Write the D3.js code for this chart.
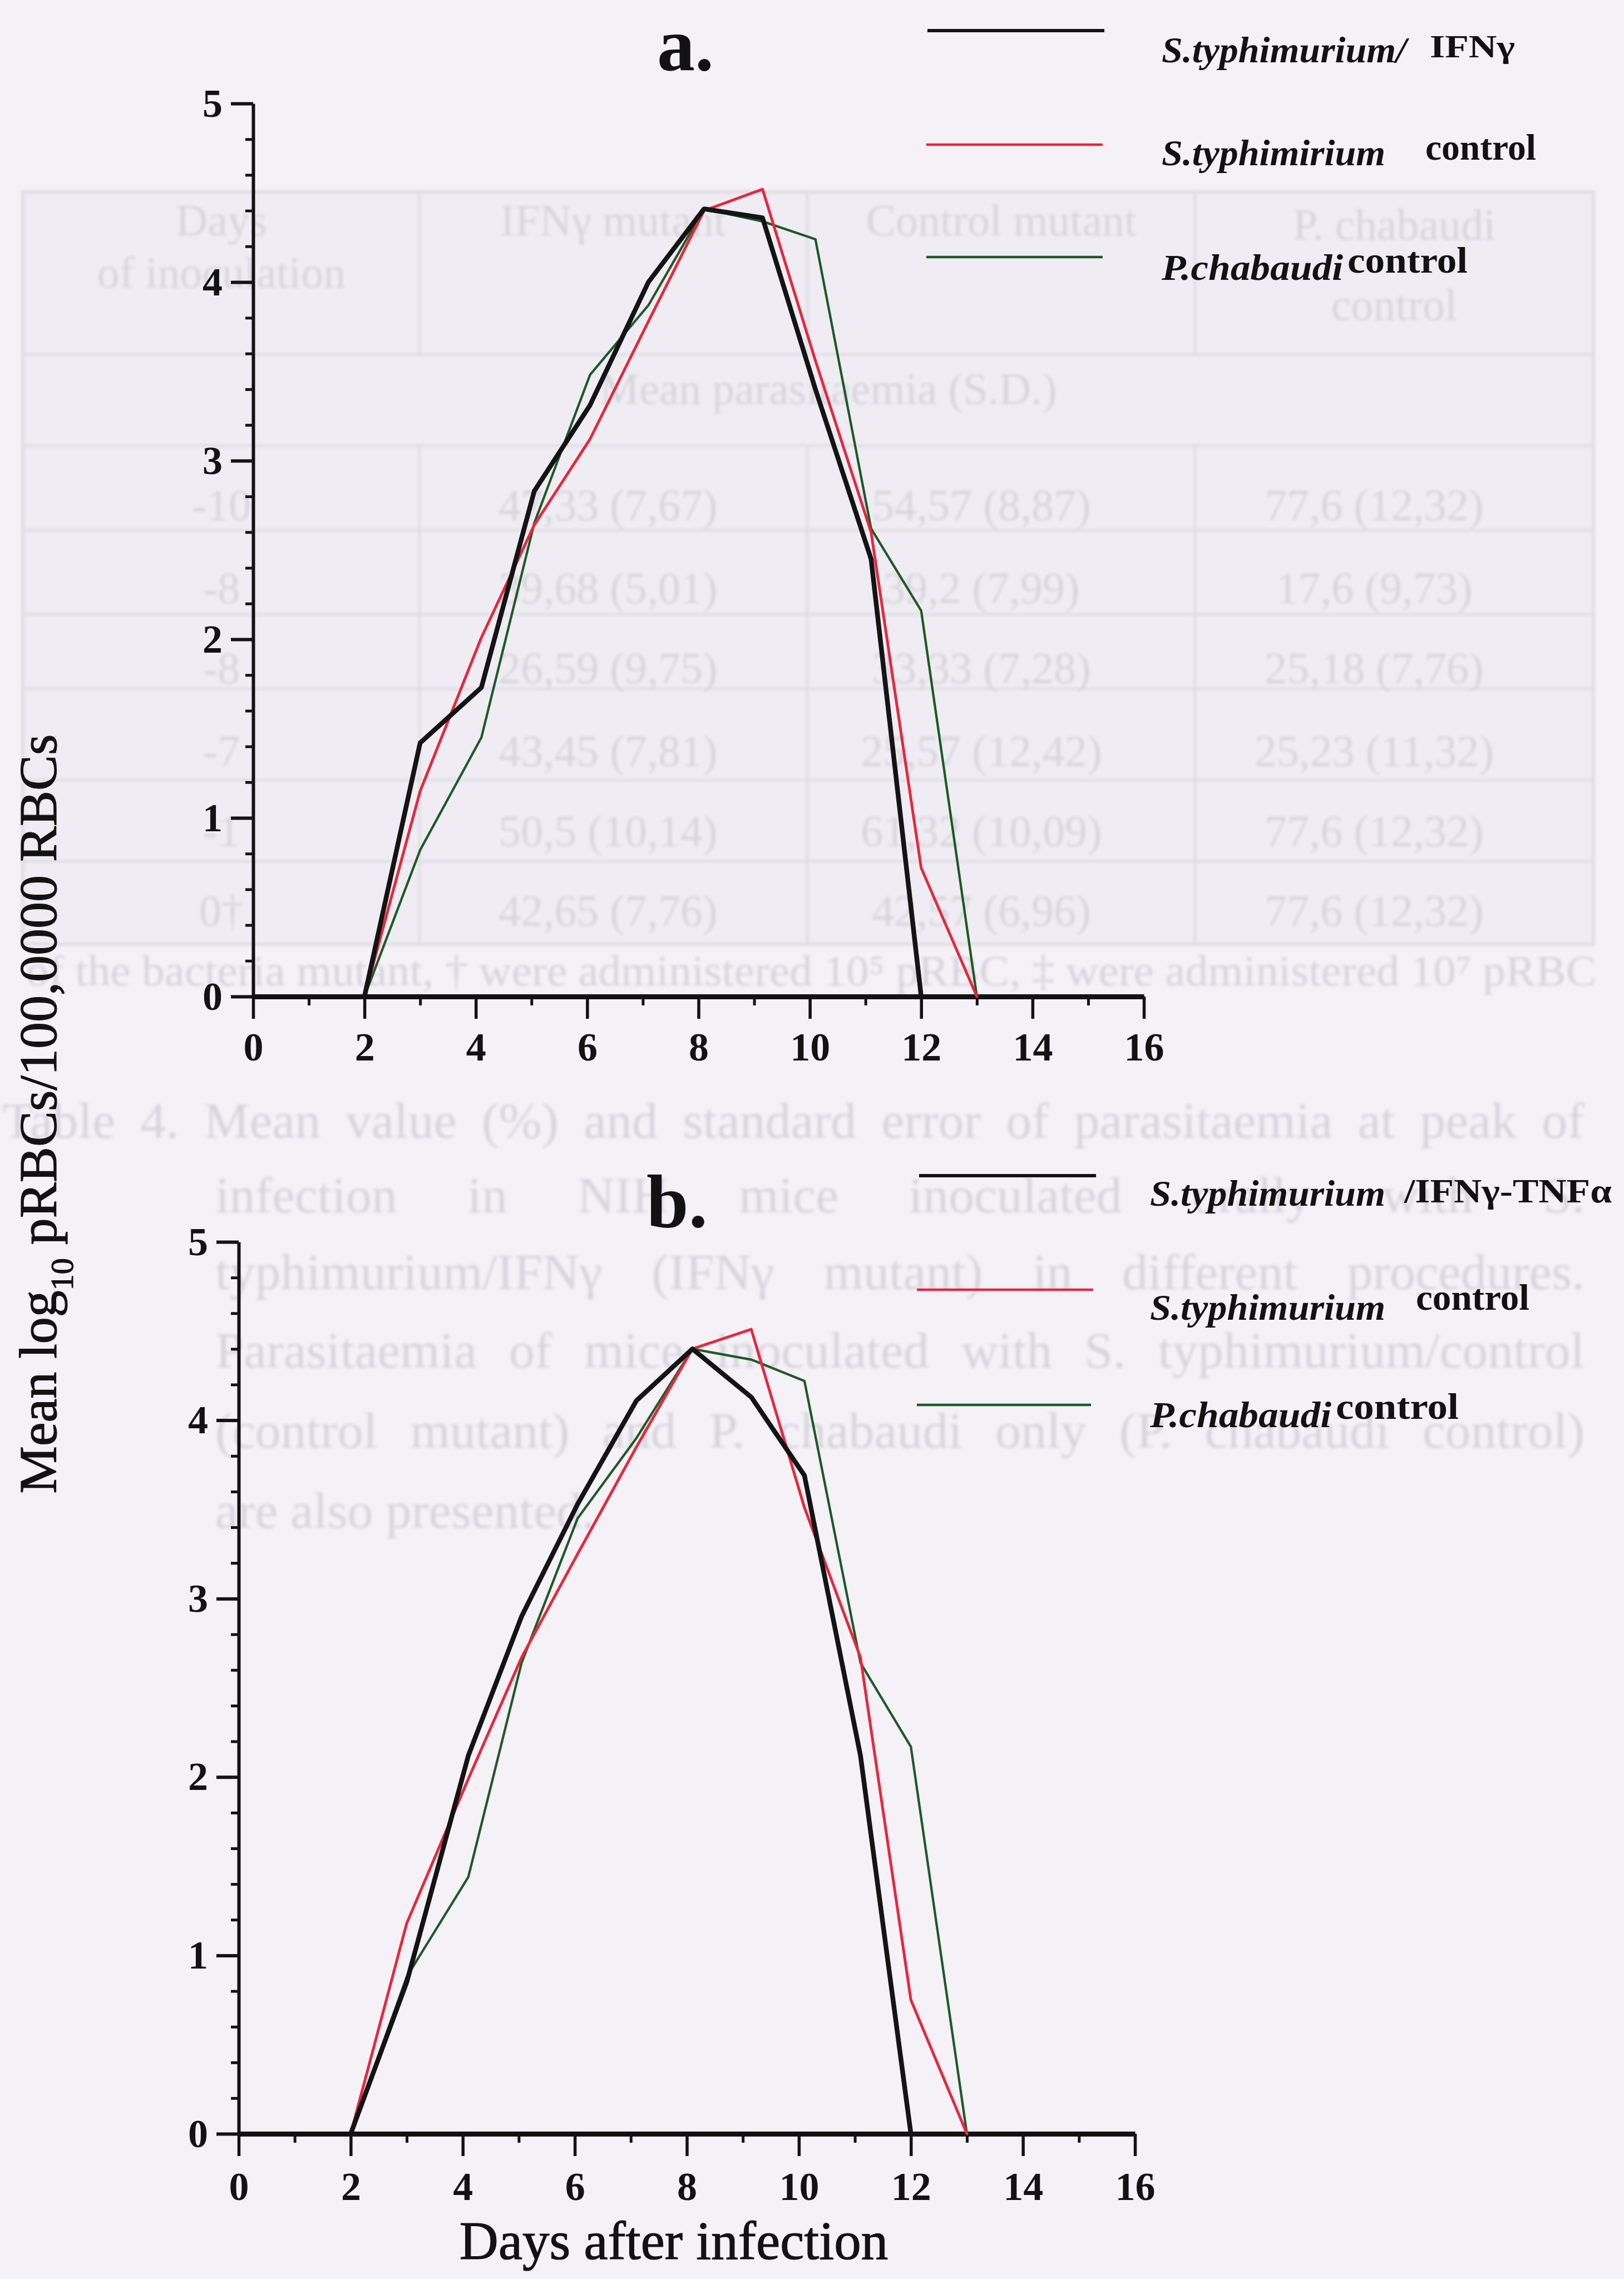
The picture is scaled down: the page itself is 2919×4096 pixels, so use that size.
<!DOCTYPE html>
<html><head><meta charset="utf-8">
<script src="https://cdn.jsdelivr.net/npm/d3@7"></script>
<style>html,body{margin:0;padding:0;background:#f4f1f7;} svg{display:block;}</style>
</head><body>
<svg id="c" width="2919" height="4096"></svg>
<script>
// ---------------- DATA ----------------
const days = [2, 3, 4.1, 5.05, 6.05, 7.1, 8.1, 9.15, 10.1, 11.1, 12, 13];
const xTickValues = [0, 2, 4, 6, 8, 10, 12, 14, 16];
const xMinorValues = [1, 3, 5, 7, 9, 11, 13, 15];
const yTickValues = [0, 1, 2, 3, 4, 5];

// panel a
const aIFN      = [0, 1.42, 1.73, 2.83, 3.31, 4.00, 4.41, 4.36, 3.40, 2.45, 0];
const aSalCtrl  = [0, 1.15, 2.01, 2.64, 3.12, 3.78, 4.40, 4.52, 3.56, 2.60, 0.72, 0];
const aPchCtrl  = [0, 0.82, 1.45, 2.65, 3.48, 3.87, 4.41, 4.34, 4.24, 2.62, 2.16, 0];
// panel b
const bIFNTNF   = [0, 0.85, 2.12, 2.90, 3.53, 4.11, 4.40, 4.13, 3.69, 2.12, 0];
const bSalCtrl  = [0, 1.18, 1.99, 2.67, 3.25, 3.85, 4.40, 4.51, 3.51, 2.67, 0.75, 0];
const bPchCtrl  = [0, 0.88, 1.44, 2.64, 3.45, 3.90, 4.40, 4.34, 4.22, 2.64, 2.17, 0];

const aLegendNames  = ["S.typhimurium/", "S.typhimirium", "P.chabaudi"];
const aLegendSuffix = ["IFNγ", "control", "control"];
const bLegendNames  = ["S.typhimurium", "S.typhimurium", "P.chabaudi"];
const bLegendSuffix = ["/IFNγ-TNFα", "control", "control"];

// faint bleed-through text of the scanned page
const ghostHeader = [["Days", "of inoculation"], ["IFNγ mutant"], ["Control mutant"], ["P. chabaudi", "control"]];
const ghostRowLabels = ["-10", "-8", "-8", "-7", "-1", "0†"];
const ghostCol2 = ["47,33 (7,67)", "39,68 (5,01)", "26,59 (9,75)", "43,45 (7,81)", "50,5 (10,14)", "42,65 (7,76)"];
const ghostCol3 = ["54,57 (8,87)", "39,2 (7,99)", "33,33 (7,28)", "25,57 (12,42)", "61,32 (10,09)", "42,57 (6,96)"];
const ghostCol4 = ["77,6 (12,32)", "17,6 (9,73)", "25,18 (7,76)", "25,23 (11,32)", "77,6 (12,32)", "77,6 (12,32)"];
const ghostCaption = [
  "Table 4. Mean value (%) and standard error of parasitaemia at peak of",
  "infection in NIH mice inoculated orally with S.",
  "typhimurium/IFNγ (IFNγ mutant) in different procedures.",
  "Parasitaemia of mice inoculated with S. typhimurium/control",
  "(control mutant) and P. chabaudi only (P. chabaudi control)",
  "are also presented."
];

// ---------------- STYLE / LAYOUT ----------------
const FONT = "'Liberation Serif','Times New Roman',serif";
const INK = "#121212";
const COLORS = ["#141414", "#e6283c", "#1f5a27"];
const WIDTHS = [8.5, 5, 4.3];
const svg = d3.select("#c");
svg.append("rect").attr("width", 2919).attr("height", 4096).attr("fill", "#f4f1f7");

// ---- ghost layer ----
const defs = svg.append("defs");
defs.append("filter").attr("id", "blur").append("feGaussianBlur").attr("stdDeviation", 2.4);
const ghost = svg.append("g").attr("filter", "url(#blur)");
const gCol = "#d7d4dd", gLine = "#dcd9e2";
ghost.append("rect").attr("x", 41).attr("y", 345).attr("width", 2823).attr("height", 1352)
  .attr("fill", "#efedf3").attr("stroke", gLine).attr("stroke-width", 5);
[637, 801, 953, 1104, 1238, 1402, 1548].forEach(yy =>
  ghost.append("line").attr("x1", 41).attr("x2", 2864).attr("y1", yy).attr("y2", yy)
    .attr("stroke", gLine).attr("stroke-width", 4));
[754, 1451, 2148].forEach(xx => {
  ghost.append("line").attr("x1", xx).attr("x2", xx).attr("y1", 345).attr("y2", 637).attr("stroke", gLine).attr("stroke-width", 4);
  ghost.append("line").attr("x1", xx).attr("x2", xx).attr("y1", 801).attr("y2", 1697).attr("stroke", gLine).attr("stroke-width", 4);
});
const colCenters = [398, 1102, 1800, 2506];
const gText = (t, x, y, size, anchor) => ghost.append("text").attr("x", x).attr("y", y)
  .attr("font-family", FONT).attr("font-size", size).attr("fill", gCol)
  .attr("text-anchor", anchor || "middle").text(t);
const headBase = [[423, 517], [423], [423], [431, 575]];
ghostHeader.forEach((lines, i) => lines.forEach((t, j) => gText(t, colCenters[i], headBase[i][j], 80)));
gText("Mean parasitaemia (S.D.)", 1489, 726, 80);
const rowBase = [935, 1084, 1228, 1377, 1521, 1664];
ghostRowLabels.forEach((t, i) => gText(t, colCenters[0], rowBase[i], 80));
ghostCol2.forEach((t, i) => gText(t, 1093, rowBase[i], 80));
ghostCol3.forEach((t, i) => gText(t, 1764, rowBase[i], 80));
ghostCol4.forEach((t, i) => gText(t, 2470, rowBase[i], 80));
gText("of the bacteria mutant, † were administered 10⁵ pRBC, ‡ were administered 10⁷ pRBC", 47, 1771, 78, "start")
  .attr("textLength", 2822).attr("lengthAdjust", "spacingAndGlyphs");
const capX = [4, 387, 387, 387, 387, 387];
const capW = [2844, 2461, 2461, 2461, 2461, 0];
const capB = [2045, 2179, 2317, 2458, 2602, 2746];
ghostCaption.forEach((t, i) => {
  const el = gText(t, capX[i], capB[i], 92, "start");
  if (capW[i]) {
    const natural = el.node().getComputedTextLength();
    const spaces = (t.match(/ /g) || []).length;
    if (spaces > 0) el.attr("word-spacing", (capW[i] - natural) / spaces);
  }
});

// ---- panels ----
function drawPanel(L, series, names, suffixes, title) {
  const g = svg.append("g");
  const x = d3.scaleLinear().domain([0, 16]).range([L.x0, L.x1]);
  const y = d3.scaleLinear().domain([0, 5]).range([L.y0, L.y1]);

  // minor ticks
  const yMinor = d3.range(1, 25).map(i => i / 5).filter(v => Math.abs(v - Math.round(v)) > 1e-6);
  g.append("g").attr("transform", `translate(${L.x0},0)`)
    .call(d3.axisLeft(y).tickValues(yMinor).tickSize(14).tickSizeOuter(0).tickFormat(""))
    .call(s => { s.select(".domain").remove(); s.selectAll("line").attr("stroke", INK).attr("stroke-width", 5); });
  g.append("g").attr("transform", `translate(0,${L.y0})`)
    .call(d3.axisBottom(x).tickValues(xMinorValues).tickSize(16).tickSizeOuter(0).tickFormat(""))
    .call(s => { s.select(".domain").remove(); s.selectAll("line").attr("stroke", INK).attr("stroke-width", 5); });

  // major y axis
  g.append("g").attr("transform", `translate(${L.x0},0)`)
    .call(d3.axisLeft(y).tickValues(yTickValues).tickSize(40).tickPadding(15).tickSizeOuter(0).tickFormat(d3.format("d")))
    .call(s => {
      s.select(".domain").attr("stroke", INK).attr("stroke-width", 6);
      s.selectAll("line").attr("stroke", INK).attr("stroke-width", 6);
      s.selectAll("text").attr("font-family", FONT).attr("font-size", 72).attr("font-weight", "bold").attr("fill", INK);
    });
  // major x axis
  g.append("g").attr("transform", `translate(0,${L.y0})`)
    .call(d3.axisBottom(x).tickValues(xTickValues).tickSize(40).tickPadding(L.xPad).tickSizeOuter(0).tickFormat(d3.format("d")))
    .call(s => {
      s.select(".domain").attr("stroke", INK).attr("stroke-width", 9);
      s.selectAll("line").attr("stroke", INK).attr("stroke-width", 5.5);
      s.selectAll("text").attr("font-family", FONT).attr("font-size", 72).attr("font-weight", "bold").attr("fill", INK);
    });

  // series
  const line = d3.line().x((d, i) => x(days[i])).y(d => y(d));
  [2, 1, 0].forEach(k => {
    g.append("path").datum(series[k]).attr("d", line).attr("fill", "none")
      .attr("stroke", COLORS[k]).attr("stroke-width", WIDTHS[k])
      .attr("stroke-linejoin", "round").attr("stroke-linecap", "round");
  });

  // title
  g.append("text").attr("x", L.titleX).attr("y", L.titleY).attr("font-family", FONT)
    .attr("font-size", 136).attr("font-weight", "bold").attr("fill", INK).text(title);

  // legend
  L.leg.forEach((r, i) => {
    g.append("line").attr("x1", r.lx1).attr("x2", r.lx2).attr("y1", r.ly).attr("y2", r.ly)
      .attr("stroke", COLORS[i]).attr("stroke-width", i === 0 ? 6 : 4.6);
    g.append("text").attr("x", r.nx).attr("y", r.nb).attr("font-family", FONT).attr("font-size", 66)
      .attr("font-weight", "bold").attr("font-style", "italic").attr("fill", INK)
      .attr("textLength", r.nw).attr("lengthAdjust", "spacingAndGlyphs").text(names[i]);
    g.append("text").attr("x", r.sx).attr("y", r.sb).attr("font-family", FONT).attr("font-size", r.ss)
      .attr("font-weight", "bold").attr("fill", INK)
      .attr("textLength", r.sw).attr("lengthAdjust", "spacingAndGlyphs").text(suffixes[i]);
  });
}

const layoutA = {
  x0: 455, x1: 2056, y0: 1791, y1: 186, xPad: 24, titleX: 1181, titleY: 126,
  leg: [
    { lx1: 1667, lx2: 1985, ly: 55,  nx: 2088, nw: 440, nb: 112, sx: 2570, sw: 153, sb: 103, ss: 58 },
    { lx1: 1665, lx2: 1982, ly: 260, nx: 2088, nw: 402, nb: 297, sx: 2562, sw: 199, sb: 287, ss: 66 },
    { lx1: 1665, lx2: 1982, ly: 462, nx: 2088, nw: 326, nb: 503, sx: 2422, sw: 216, sb: 490, ss: 66 }
  ]
};
const layoutB = {
  x0: 429, x1: 2040, y0: 3835, y1: 2232, xPad: 28, titleX: 1162, titleY: 2205,
  leg: [
    { lx1: 1652, lx2: 1970, ly: 2113, nx: 2067, nw: 423, nb: 2167, sx: 2524, sw: 373, sb: 2161, ss: 62 },
    { lx1: 1648, lx2: 1965, ly: 2318, nx: 2067, nw: 423, nb: 2372, sx: 2545, sw: 204, sb: 2354, ss: 66 },
    { lx1: 1648, lx2: 1961, ly: 2525, nx: 2067, nw: 326, nb: 2565, sx: 2401, sw: 221, sb: 2550, ss: 66 }
  ]
};

drawPanel(layoutA, [aIFN, aSalCtrl, aPchCtrl], aLegendNames, aLegendSuffix, "a.");
drawPanel(layoutB, [bIFNTNF, bSalCtrl, bPchCtrl], bLegendNames, bLegendSuffix, "b.");

// shared axis titles
const yl = svg.append("text").attr("transform", "translate(101,2002) rotate(-90)")
  .attr("text-anchor", "middle").attr("font-family", FONT).attr("font-size", 96)
  .attr("fill", INK).attr("stroke", INK).attr("stroke-width", 1.2);
yl.append("tspan").text("Mean log");
yl.append("tspan").attr("font-size", 58).attr("dy", 30).text("10");
yl.append("tspan").attr("dy", -30).text(" pRBCs/100,0000 RBCs");

svg.append("text").attr("x", 1211).attr("y", 4060).attr("text-anchor", "middle")
  .attr("font-family", FONT).attr("font-size", 97).attr("fill", INK)
  .attr("stroke", INK).attr("stroke-width", 1.2).text("Days after infection");
</script>
</body></html>
